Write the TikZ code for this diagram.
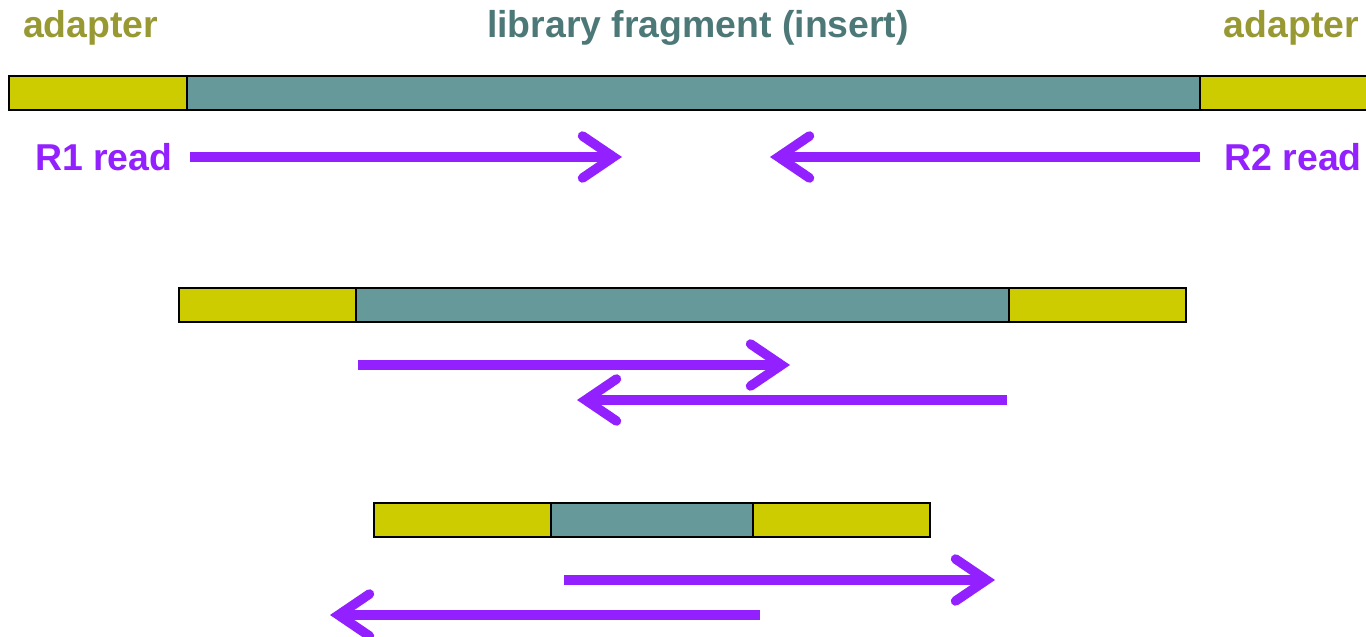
\documentclass[tikz,border=0pt]{standalone}
\usepackage{fontspec}
\setmainfont{Liberation Sans}
\usetikzlibrary{arrows.meta}
\definecolor{adapterfill}{RGB}{204,204,0}
\definecolor{insertfill}{RGB}{102,153,153}
\definecolor{adaptertext}{RGB}{153,153,51}
\definecolor{inserttext}{RGB}{77,120,120}
\definecolor{readcol}{RGB}{146,32,255}
\begin{document}
\begin{tikzpicture}[x=1pt,y=-1pt,
  seg/.style={draw=black,line width=2pt,inner sep=0pt,outer sep=0pt,minimum height=34pt,anchor=north west},
  adapterseg/.style={seg,fill=adapterfill},
  insertseg/.style={seg,fill=insertfill},
  lbl/.style={font=\fontsize{37.4}{41}\selectfont\bfseries,inner sep=0pt},
  readarrow/.style={draw=readcol,line width=9.5pt,
    -{Straight Barb[length=31pt,width=42pt,line join=miter,line cap=round]}}
]
\useasboundingbox (0,0) rectangle (1366,637);
% labels
\node[lbl,text=adaptertext,anchor=base west] (adL) at (23,37) {adapter};
\node[lbl,text=inserttext,anchor=base] (ins) at (698,37) {library fragment (insert)};
\node[lbl,text=adaptertext,anchor=base east] (adR) at (1359,37) {adapter};
\node[lbl,text=readcol,anchor=base west] (r1t) at (35,170) {R1 read};
\node[lbl,text=readcol,anchor=base east] (r2t) at (1362,170) {R2 read};
% row 1
\node[adapterseg,minimum width=178pt] (a1l) at (9,76) {};
\node[insertseg,minimum width=1013pt] (i1) at (187,76) {};
\node[adapterseg,minimum width=200pt] (a1r) at (1200,76) {};
% row 2
\node[adapterseg,minimum width=177pt] (a2l) at (179,288) {};
\node[insertseg,minimum width=653pt] (i2) at (356,288) {};
\node[adapterseg,minimum width=177pt] (a2r) at (1009,288) {};
% row 3
\node[adapterseg,minimum width=177pt] (a3l) at (374,503) {};
\node[insertseg,minimum width=202pt] (i3) at (551,503) {};
\node[adapterseg,minimum width=177pt] (a3r) at (753,503) {};
% read coordinates
\coordinate (r1s) at (190,157); \coordinate (r1e) at (622,157);
\coordinate (r2s) at (1200,157); \coordinate (r2e) at (770,157);
\coordinate (p1s) at (358,365); \coordinate (p1e) at (790,365);
\coordinate (p2s) at (1007,400); \coordinate (p2e) at (577,400);
\coordinate (q1s) at (564,580); \coordinate (q1e) at (995,580);
\coordinate (q2s) at (760,615); \coordinate (q2e) at (330,615);
\draw[readarrow] (r1s) -- (r1e);
\draw[readarrow] (r2s) -- (r2e);
\draw[readarrow] (p1s) -- (p1e);
\draw[readarrow] (p2s) -- (p2e);
\draw[readarrow] (q1s) -- (q1e);
\draw[readarrow] (q2s) -- (q2e);
\end{tikzpicture}
\end{document}
